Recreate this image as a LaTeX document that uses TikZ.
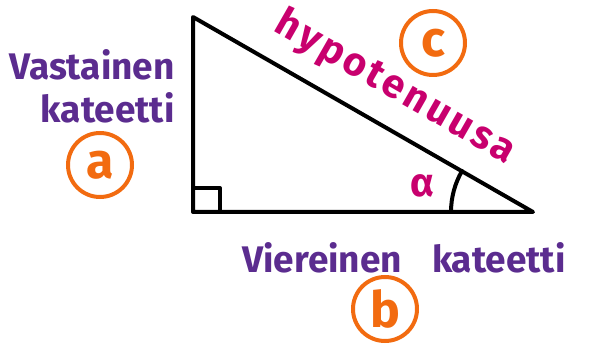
\documentclass[tikz,border=0pt]{standalone}
\usepackage{fontspec}
\setmainfont{Fira Sans}
\usepackage{tikz}

\definecolor{leg}{HTML}{5B2C8F}
\definecolor{hyp}{HTML}{C8006E}
\definecolor{mark}{HTML}{F26B10}

\begin{document}
\begin{tikzpicture}[
  x=1pt, y=-1pt,
  side/.style={line width=4pt, line join=round, line cap=round},
  legtext/.style={text=leg, font=\fontsize{37}{43}\selectfont\bfseries, align=right, inner sep=0pt},
  letter/.style={draw=mark, text=mark, circle, line width=4pt, minimum size=64pt, inner sep=0pt,
    font=\fontsize{50}{50}\selectfont\bfseries}
]
\useasboundingbox (0,0) rectangle (596,344);
\coordinate (top) at (193,17);
\coordinate (rt) at (193,212);
\coordinate (acute) at (533,212);
\draw[side] (top) -- (rt) -- (acute) -- cycle;
\draw[side] (193,188) -- (220,188) -- (220,212);
\draw[side] (acute) ++(180:82) arc (180:210:82);
\node[text=hyp, font=\fontsize{40}{40}\selectfont\bfseries, inner sep=0pt] (alpha) at (422,186) {α};
\node[text=hyp, font=\fontsize{40}{40}\selectfont\bfseries\addfontfeatures{LetterSpace=8}, rotate=-29.8, inner sep=0pt] (hypo) at (395,88) {hypotenuusa};
\node[legtext] (opp) at (92,86) {Vastainen\\kateetti};
\node[legtext] (adj) at (404,258) {Viereinen\hspace{30pt}kateetti};
\node[letter] (a) at (100,165) {a};
\node[letter] (c) at (433,43) {c};
\node[letter] (b) at (385,309) {b};
\end{tikzpicture}
\end{document}
